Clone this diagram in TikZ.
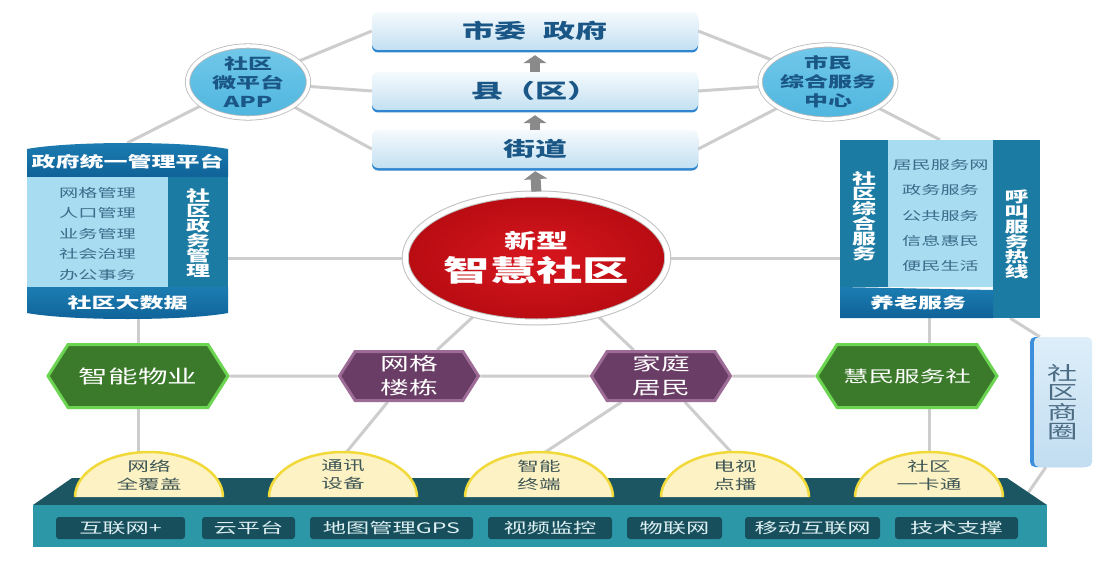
\documentclass[tikz,border=0pt]{standalone}
\usepackage{fontspec}
\setmainfont{Noto Sans CJK SC}[FakeStretch=1.6]
\usetikzlibrary{shapes.geometric,shapes.symbols,arrows.meta,shadows,backgrounds,positioning}

\definecolor{linkgray}{HTML}{CDCDCD}
\definecolor{lvltop}{HTML}{F5FAFD}
\definecolor{lvlbot}{HTML}{C3E0F2}
\definecolor{lvledge}{HTML}{2F86CF}
\definecolor{navytext}{HTML}{1B5786}
\definecolor{appblue}{HTML}{4FB6DF}
\definecolor{appblue2}{HTML}{72C8EA}
\definecolor{corered}{HTML}{D8161E}
\definecolor{coredark}{HTML}{B80C12}
\definecolor{bandblue}{HTML}{0F6298}
\definecolor{bandlight}{HTML}{1C7DB2}
\definecolor{colblue}{HTML}{1C7BA3}
\definecolor{paleblue}{HTML}{A8DCF1}
\definecolor{listtext}{HTML}{3C6C8A}
\definecolor{hexgreen}{HTML}{3C7A2B}
\definecolor{hexgreenedge}{HTML}{6BD552}
\definecolor{hexpurple}{HTML}{6A3D66}
\definecolor{hexpurpleedge}{HTML}{9C6C97}
\definecolor{domefill}{HTML}{FCF2C4}
\definecolor{domeedge}{HTML}{F1D93A}
\definecolor{dometext}{HTML}{3F5656}
\definecolor{basetop}{HTML}{1D5663}
\definecolor{basefront}{HTML}{2C97A7}
\definecolor{tagfill}{HTML}{17505C}
\definecolor{tagtext}{HTML}{DDEFF2}
\definecolor{sqtop}{HTML}{DDEEF9}
\definecolor{sqbot}{HTML}{C2DDF1}
\definecolor{sqedge}{HTML}{3D8FDB}
\definecolor{sqtext}{HTML}{4C6C84}
\definecolor{arrowgray}{HTML}{8A8A8A}

\newcommand{\setfs}[2]{\fontsize{#1}{#2}\selectfont}

\begin{document}
\begin{tikzpicture}[x=1pt,y=-1pt,
    link/.style={draw=linkgray,line width=3pt},
    level/.style={rectangle,rounded corners=6pt,minimum width=326pt,minimum height=38pt,
      top color=lvltop,bottom color=lvlbot,text=navytext,font=\setfs{20}{20}\bfseries,
      drop shadow={shadow xshift=0pt,shadow yshift=-2.5pt,fill=lvledge,opacity=1}},
    uparrow/.style={draw=arrowgray,line width=10pt,-{Triangle[width=23pt,length=8pt]}},
    bubble/.style={ellipse,minimum width=121pt,minimum height=69pt,inner sep=0pt,
      top color=appblue2,bottom color=appblue,draw=gray!55,line width=0.8pt,
      double=white,double distance=3.5pt,text=navytext,align=center,font=\setfs{15}{19}\bfseries},
    core/.style={ellipse,minimum width=220pt,minimum height=128pt,inner sep=0pt,
      inner color=corered,outer color=coredark,draw=gray!50,line width=1pt,
      double=white,double distance=5pt,text=white,align=center,font=\setfs{29}{33}\bfseries},
    hexa/.style={signal,signal to=west and east,signal pointer angle=115,line width=3pt,
      text=white,align=center,inner sep=0pt},
    greenhex/.style={hexa,fill=hexgreen,draw=hexgreenedge,minimum width=180pt,minimum height=63pt},
    purplehex/.style={hexa,fill=hexpurple,draw=hexpurpleedge,minimum width=139pt,minimum height=49pt,
      font=\setfs{18}{24}},
    hidden/.style={rectangle,inner sep=0pt},
    whitebold/.style={text=white,font=\setfs{15}{15}\bfseries,align=center},
    listitem/.style={text=listtext,font=\setfs{12}{12}},
    dome/.style={fill=domefill,draw=domeedge,line width=2.5pt},
    domelabel/.style={text=dometext,align=center,font=\setfs{13.5}{18}},
    tag/.style={rectangle,rounded corners=3pt,fill=tagfill,text=tagtext,minimum height=22pt,
      inner sep=0pt,font=\setfs{14.5}{14.5}},
    shangquan/.style={rectangle,rounded corners=5pt,minimum width=58pt,minimum height=130pt,
      top color=sqtop,bottom color=sqbot,text=sqtext,align=center,font=\setfs{19}{19.5},
      drop shadow={shadow xshift=-4pt,shadow yshift=0pt,fill=sqedge,opacity=1}}]

\useasboundingbox (0,0) rectangle (1116,567);

% levels of government
\node[level] (shiwei) at (535,31) {市委\hspace{18pt}政府};
\node[level] (xian) at (535,91) {县（区）};
\node[level] (jiedao) at (535,149) {街道};

\node[bubble] (app) at (248,82) {社区\\微平台\\APP};
\node[bubble] (smfw) at (828,82) {市民\\综合服务\\中心};

\node[core] (core) at (536.5,258) {{\setfs{20}{20}\bfseries 新型}\\智慧社区};

\draw[uparrow,shorten >=5pt] (xian.north) -- (shiwei.south);
\draw[uparrow,shorten >=5pt] (jiedao.north) -- (xian.south);
\draw[uparrow,shorten >=3pt,shorten <=2pt] (core.north) -- (jiedao.south);

% left cylinder
\node[hidden,minimum width=201pt,minimum height=175pt] (zwbox) at (127.5,230.5) {};
\shade[top color=bandlight,bottom color=bandblue] (27,177) -- (27,149)
  .. controls (70,141) and (185,141) .. (228,149) -- (228,177) -- cycle;
\fill[paleblue] (27,177) rectangle (168,287);
\fill[colblue] (168,177) rectangle (228,287);
\shade[top color=bandlight,bottom color=bandblue] (27,287) -- (228,287) -- (228,313)
  .. controls (185,321) and (70,321) .. (27,313) -- cycle;
\node[whitebold] (zwtitle) at (127.5,162) {政府统一管理平台};
\foreach \t [count=\i] in {网格管理,人口管理,业务管理,社会治理,办公事务}
  \node[listitem] (zw\i) at (97.5,172+20.5*\i) {\t};
\node[whitebold] (zwcol) at (198,233) {社\\区\\政\\务\\管\\理};
\node[whitebold] (zwdata) at (127.5,303) {社区大数据};

% right box
\node[hidden,minimum width=200pt,minimum height=178pt] (fwbox) at (940,229) {};
\fill[colblue] (840,140) rectangle (888,287);
\fill[paleblue] (888,140) rectangle (993,287);
\fill[colblue] (993,140) rectangle (1040,318);
\shade[top color=bandlight,bottom color=bandblue] (840,287) -- (993,290) -- (993,318)
  -- (840,318) -- cycle;
\foreach \t [count=\i] in {居民服务网,政务服务,公共服务,信息惠民,便民生活}
  \node[listitem] (fw\i) at (940.5,140+25.2*\i) {\t};
\node[whitebold] (fwleft) at (864,216) {社\\区\\综\\合\\服\\务};
\node[whitebold] (fwright) at (1016.5,234) {呼\\叫\\服\\务\\热\\线};
\node[whitebold] (fwold) at (918,303) {养老服务};

% hexagons
\node[greenhex,font=\setfs{18.5}{24}] (znwy) at (138,376) {智能物业};
\node[purplehex] (wgld) at (409,376) {网格\\楼栋};
\node[purplehex] (jtjm) at (661,376) {家庭\\居民};
\node[greenhex,font=\setfs{16}{20}] (hmfw) at (907,376) {慧民服务社};

\node[shangquan] (sq) at (1063,402) {社\\区\\商\\圈};

% platform
\fill[basetop] (33,505) -- (72,478) -- (1007,478) -- (1047,505) -- cycle;
\fill[basefront] (33,505) rectangle (1047,547);
\coordinate (basecorner) at (1026,496);
\foreach \x/\t [count=\i] in {149/{网络\\全覆盖},343/{通讯\\设备},539/{智能\\终端},735/{电视\\点播},929/{社区\\一卡通}} {
  \draw[dome] (\x-74,497) arc[start angle=180,end angle=360,x radius=74,y radius=45];
  \node[domelabel] (dome\i) at (\x,475) {\t};
}
\foreach \x/\w/\t [count=\i] in {120.5/129/互联网+,248.5/93/云平台,391.5/163/地图管理GPS,550/124/视频监控,674.5/95/物联网,812.5/135/移动互联网,956.5/123/技术支撑}
  \node[tag,minimum width=\w pt] (tag\i) at (\x,528) {\t};

\begin{scope}[on background layer]
  \fill[white] (0,0) rectangle (1116,567);
  \draw[link] (app) -- (shiwei.west);
  \draw[link] (app) -- (xian.west);
  \draw[link] (app) -- (jiedao.west);
  \draw[link] (smfw) -- (shiwei.east);
  \draw[link] (smfw) -- (xian.east);
  \draw[link] (smfw) -- (jiedao.east);
  \draw[link] (app) -- (zwbox.north);
  \draw[link] (smfw) -- (fwbox.north);
  \draw[link] (core.west) -- (core.west -| zwbox.east);
  \draw[link] (core.east) -- (core.east -| fwbox.west);
  \draw[link] (zwbox.south -| znwy) -- (znwy |- dome1);
  \draw[link] (fwbox.south -| dome5) -- (dome5);
  \draw[link] (znwy) -- (wgld) -- (jtjm) -- (hmfw);
  \draw[link] (core) -- (wgld) -- (dome2.north);
  \draw[link] (core) -- (jtjm);
  \draw[link] (jtjm) -- (dome3.north);
  \draw[link] (jtjm) -- (dome4.north);
  \draw[link] ([xshift=-30pt]fwbox.south east) -- ([xshift=6pt]sq.north west);
  \draw[link] ([xshift=12pt]sq.south west) -- (basecorner);
\end{scope}
\end{tikzpicture}
\end{document}
